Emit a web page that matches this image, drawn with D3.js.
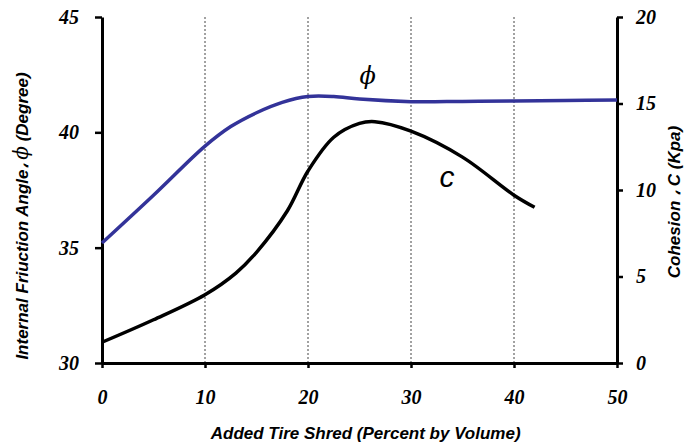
<!DOCTYPE html>
<html>
<head>
<meta charset="utf-8">
<script src="https://cdn.jsdelivr.net/npm/d3@7"></script>
<style>
  body { margin: 0; background: #fff; }
</style>
</head>
<body>
<div id="my_dataviz"></div>
<script>
// data
var xTicks = [0, 10, 20, 30, 40, 50];
var phiTicks = [30, 35, 40, 45];
var cTicks = [0, 5, 10, 15, 20];

var phiX = [0, 5, 10, 12.5, 15, 17.5, 20, 22.5, 25, 30, 35, 40, 45, 50];
var phiY = [35.2, 37.27, 39.4, 40.25, 40.85, 41.3, 41.55, 41.55, 41.44, 41.33, 41.34, 41.36, 41.38, 41.4];

var cX = [0, 5, 10, 13, 15, 18, 20, 22.5, 25, 26.5, 30, 35, 40, 42];
var cY = [1.2, 2.5, 3.95, 5.2, 6.4, 8.8, 11.1, 13.05, 13.85, 13.95, 13.4, 11.9, 9.7, 9.0];

// set the dimensions and margins of the graph
var margin = {top: 17, right: 69, bottom: 79, left: 102},
    width = 686 - margin.left - margin.right,
    height = 442 - margin.top - margin.bottom;

var svg = d3.select("#my_dataviz")
  .append("svg")
    .attr("width", 686)
    .attr("height", 442)
  .append("g")
    .attr("transform", "translate(" + margin.left + "," + margin.top + ")");

var x = d3.scaleLinear().domain([0, 50]).range([0, width]);
var yL = d3.scaleLinear().domain([30, 45]).range([height, 0]);
var yR = d3.scaleLinear().domain([0, 20]).range([height, 0]);

// dashed vertical grid
svg.selectAll("grid")
  .data(xTicks.slice(1, -1))
  .enter()
  .append("line")
    .attr("x1", function(d) { return x(d) })
    .attr("x2", function(d) { return x(d) })
    .attr("y1", 0)
    .attr("y2", height)
    .attr("stroke", "#444")
    .attr("stroke-width", 1)
    .attr("stroke-dasharray", "2,2");

var tickFont = "italic bold 20px 'Liberation Serif', 'Times New Roman', serif";

function styleAxis(g) {
  g.select(".domain").attr("stroke", "#000").attr("stroke-width", 3);
  g.selectAll(".tick line").attr("stroke", "#000").attr("stroke-width", 2.5);
  g.selectAll(".tick text").style("font", tickFont).attr("fill", "#000");
}

// X axis
svg.append("g")
  .attr("transform", "translate(0," + height + ")")
  .call(d3.axisBottom(x).tickValues(xTicks).tickSize(5).tickSizeOuter(0).tickPadding(22))
  .call(styleAxis);

// left axis
svg.append("g")
  .call(d3.axisLeft(yL).tickValues(phiTicks).tickSize(7).tickSizeOuter(0).tickPadding(16))
  .call(styleAxis);

// right axis
svg.append("g")
  .attr("transform", "translate(" + width + ",0)")
  .call(d3.axisRight(yR).tickValues(cTicks).tickSize(6).tickSizeOuter(0).tickPadding(13))
  .call(styleAxis);

// lines
var phiLine = d3.line()
  .x(function(d, i) { return x(phiX[i]) })
  .y(function(d) { return yL(d) })
  .curve(d3.curveCatmullRom);

var cLine = d3.line()
  .x(function(d, i) { return x(cX[i]) })
  .y(function(d) { return yR(d) })
  .curve(d3.curveCatmullRom);

svg.append("path")
  .attr("d", phiLine(phiY))
  .attr("stroke", "#333399")
  .style("stroke-width", 3.5)
  .style("fill", "none");

svg.append("path")
  .attr("d", cLine(cY))
  .attr("stroke", "#000")
  .style("stroke-width", 3.5)
  .style("fill", "none");

// curve labels
svg.append("text")
  .attr("x", x(25.8))
  .attr("y", yL(42.1))
  .attr("text-anchor", "middle")
  .style("font", "italic 24px 'DejaVu Serif', serif")
  .text("ϕ");

svg.append("text")
  .attr("x", x(33.5))
  .attr("y", yR(10.2))
  .attr("text-anchor", "middle")
  .style("font", "italic 30px 'Liberation Sans', Arial, sans-serif")
  .text("c");

// axis titles
var titleFont = "italic bold 17px 'Liberation Sans', Arial, sans-serif";

svg.append("text")
  .attr("text-anchor", "middle")
  .attr("transform", "translate(" + (-74) + "," + 199 + ") rotate(-90)")
  .style("font", titleFont)
  .html("Internal Friuction Angle، <tspan style='font: italic 20px \"DejaVu Serif\", serif'>ϕ</tspan> (Degree)");

svg.append("text")
  .attr("text-anchor", "middle")
  .attr("transform", "translate(" + (width + 63) + "," + 185 + ") rotate(-90)")
  .style("font", titleFont)
  .text("Cohesion ، C (Kpa)");

svg.append("text")
  .attr("text-anchor", "middle")
  .attr("x", x(25.6))
  .attr("y", height + 76)
  .style("font", titleFont)
  .text("Added Tire Shred (Percent by Volume)");
</script>
</body>
</html>
